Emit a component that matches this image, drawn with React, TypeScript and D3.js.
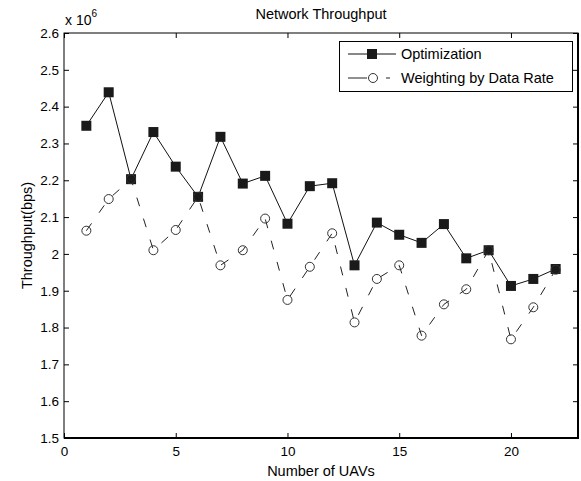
import React, { useEffect, useRef } from "react";
import * as d3 from "d3";

// number of UAVs on the x axis
const uavCounts = [1, 2, 3, 4, 5, 6, 7, 8, 9, 10, 11, 12, 13, 14, 15, 16, 17, 18, 19, 20, 21, 22];

// throughput in units of 10^6 bps
const optimization = [
  2.348, 2.439, 2.203, 2.331, 2.237, 2.155, 2.318, 2.191, 2.212, 2.082, 2.184,
  2.192, 1.969, 2.085, 2.052, 2.03, 2.081, 1.988, 2.01, 1.913, 1.932, 1.959,
];
const weighting = [
  2.063, 2.149, 2.203, 2.01, 2.065, 2.155, 1.969, 2.01, 2.096, 1.875, 1.965,
  2.056, 1.814, 1.932, 1.969, 1.778, 1.863, 1.904, 2.01, 1.768, 1.855, 1.957,
];

const seriesNames = ["Optimization", "Weighting by Data Rate"];
const xTicks = [0, 5, 10, 15, 20];
const yTicks = [1.5, 1.6, 1.7, 1.8, 1.9, 2, 2.1, 2.2, 2.3, 2.4, 2.5, 2.6];
const yTickLabels = ["1.5", "1.6", "1.7", "1.8", "1.9", "2", "2.1", "2.2", "2.3", "2.4", "2.5", "2.6"];

const FONT = "'Liberation Sans', Arial, Helvetica, sans-serif";

const App = () => {
  const chartRef = useRef(null);

  useEffect(() => {
    drawChart();
  }, []);

  const drawChart = () => {
    const width = 581;
    const height = 481;
    const margin = { top: 33, right: 3, bottom: 43, left: 64 };

    const svg = d3.select(chartRef.current);
    svg.selectAll("*").remove();
    svg.attr("width", width).attr("height", height);

    svg.append("rect").attr("width", width).attr("height", height).attr("fill", "#fff");

    const x = d3.scaleLinear().domain([0, 23]).range([margin.left, width - margin.right]);
    const y = d3.scaleLinear().domain([1.5, 2.6]).range([height - margin.bottom, margin.top]);

    // plot box
    svg
      .append("rect")
      .attr("x", x(0))
      .attr("y", y(2.6))
      .attr("width", x(23) - x(0))
      .attr("height", y(1.5) - y(2.6))
      .attr("fill", "none")
      .attr("stroke", "#000")
      .attr("stroke-width", 1);

    const styleAxis = (g, labelSize) => {
      g.select(".domain").remove();
      g.selectAll(".tick line").attr("stroke", "#000");
      g.selectAll("text")
        .attr("font-family", FONT)
        .attr("font-size", labelSize)
        .attr("fill", "#000");
    };

    svg
      .append("g")
      .attr("transform", `translate(0,${y(1.5)})`)
      .call(d3.axisBottom(x).tickValues(xTicks).tickSize(-5).tickPadding(8).tickFormat(d3.format("d")))
      .call((g) => styleAxis(g, 13.5));

    svg
      .append("g")
      .attr("transform", `translate(0,${y(2.6)})`)
      .call(d3.axisTop(x).tickValues(xTicks).tickSize(-5).tickFormat(() => ""))
      .call((g) => styleAxis(g, 13));

    svg
      .append("g")
      .attr("transform", `translate(${x(0)},0)`)
      .call(
        d3
          .axisLeft(y)
          .tickValues(yTicks)
          .tickSize(-5)
          .tickPadding(5)
          .tickFormat((d, i) => yTickLabels[i])
      )
      .call((g) => styleAxis(g, 13.5));

    svg
      .append("g")
      .attr("transform", `translate(${x(23)},0)`)
      .call(d3.axisRight(y).tickValues(yTicks).tickSize(-5).tickFormat(() => ""))
      .call((g) => styleAxis(g, 13));

    // thicker bottom and right edges like the export
    svg
      .append("path")
      .attr("d", `M${x(0)},${y(1.5)}H${x(23)}V${y(2.6)}`)
      .attr("fill", "none")
      .attr("stroke", "#000")
      .attr("stroke-width", 2);

    const line = d3
      .line()
      .x((d) => x(d[0]))
      .y((d) => y(d[1]));

    const optPts = uavCounts.map((u, i) => [u, optimization[i]]);
    const wPts = uavCounts.map((u, i) => [u, weighting[i]]);

    // Optimization: solid with filled squares
    svg
      .append("path")
      .datum(optPts)
      .attr("d", line)
      .attr("fill", "none")
      .attr("stroke", "#111")
      .attr("stroke-width", 1);

    svg
      .append("g")
      .selectAll("rect")
      .data(optPts)
      .enter()
      .append("rect")
      .attr("x", (d) => x(d[0]) - 5)
      .attr("y", (d) => y(d[1]) - 5)
      .attr("width", 10)
      .attr("height", 10)
      .attr("fill", "#1a1a1a");

    // Weighting: dash-dot with open circles
    svg
      .append("path")
      .datum(wPts)
      .attr("d", line)
      .attr("fill", "none")
      .attr("stroke", "#222")
      .attr("stroke-width", 1)
      .attr("stroke-dasharray", "9,13");

    svg
      .append("g")
      .selectAll("circle")
      .data(wPts)
      .enter()
      .append("circle")
      .attr("cx", (d) => x(d[0]))
      .attr("cy", (d) => y(d[1]))
      .attr("r", 4.5)
      .attr("fill", "none")
      .attr("stroke", "#333")
      .attr("stroke-width", 1);

    // legend
    const legend = svg.append("g");
    legend
      .append("rect")
      .attr("x", 339.5)
      .attr("y", 41.5)
      .attr("width", 233)
      .attr("height", 50)
      .attr("fill", "#fff")
      .attr("stroke", "#000")
      .attr("stroke-width", 1);

    const rows = [54, 78];
    legend
      .append("line")
      .attr("x1", 348)
      .attr("x2", 396)
      .attr("y1", rows[0])
      .attr("y2", rows[0])
      .attr("stroke", "#111");
    legend
      .append("rect")
      .attr("x", 367)
      .attr("y", rows[0] - 5)
      .attr("width", 10)
      .attr("height", 10)
      .attr("fill", "#1a1a1a");
    legend
      .append("line")
      .attr("x1", 348)
      .attr("x2", 396)
      .attr("y1", rows[1])
      .attr("y2", rows[1])
      .attr("stroke", "#222")
      .attr("stroke-dasharray", "19,19,4,20");
    legend
      .append("circle")
      .attr("cx", 373)
      .attr("cy", rows[1])
      .attr("r", 4.5)
      .attr("fill", "#fff")
      .attr("stroke", "#333");

    legend
      .selectAll("text")
      .data(seriesNames)
      .enter()
      .append("text")
      .attr("x", 401)
      .attr("y", (d, i) => rows[i])
      .attr("dy", "0.36em")
      .attr("font-family", FONT)
      .attr("font-size", 14.5)
      .text((d) => d);

    // title and labels
    svg
      .append("text")
      .attr("x", (x(0) + x(23)) / 2)
      .attr("y", 19)
      .attr("text-anchor", "middle")
      .attr("font-family", FONT)
      .attr("font-size", 14.5)
      .text("Network Throughput");

    svg
      .append("text")
      .attr("x", (x(0) + x(23)) / 2)
      .attr("y", 476)
      .attr("text-anchor", "middle")
      .attr("font-family", FONT)
      .attr("font-size", 14.5)
      .text("Number of UAVs");

    svg
      .append("text")
      .attr("transform", `translate(31.5,${(y(1.5) + y(2.6)) / 2}) rotate(-90)`)
      .attr("text-anchor", "middle")
      .attr("font-family", FONT)
      .attr("font-size", 14.5)
      .text("Throughput(bps)");

    const exp = svg.append("text").attr("x", 65).attr("y", 25).attr("font-family", FONT).attr("font-size", 14);
    exp.append("tspan").text("x 10");
    exp.append("tspan").attr("dy", -8).attr("font-size", 10).text("6");
  };

  return <svg ref={chartRef} style={{ position: "absolute", left: 0, top: 0 }}></svg>;
};

export default App;
